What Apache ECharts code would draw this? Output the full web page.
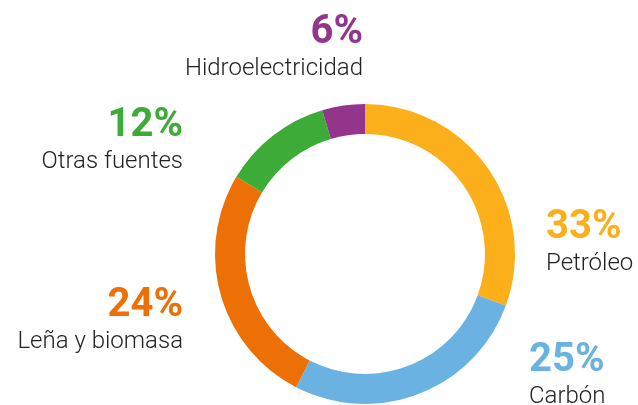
<!DOCTYPE html>
<html>
<head>
<meta charset="utf-8">
<script src="https://cdn.jsdelivr.net/npm/echarts@6/dist/echarts.min.js"></script>
<style>
  html, body { margin: 0; padding: 0; background: #fff; }
  #donut_chart { width: 638px; height: 405px; }
</style>
</head>
<body>
<div id="donut_chart"></div>
<script>
// data
let categories = ['Petróleo', 'Carbón', 'Leña y biomasa', 'Otras fuentes', 'Hidroelectricidad'];
// arc sizes as drawn in the ring
let shares = [30.6, 27.0, 26.0, 11.8, 4.6];
// percentages printed in the labels
let pctLabels = ['33%', '25%', '24%', '12%', '6%'];
let colors = ['#FBB01B', '#6AB2E2', '#EC7005', '#3DAB37', '#93358A'];

// where each label box is anchored (x, top y, align)
let labelAnchors = [
  [546, 206, 'left'],
  [529, 339, 'left'],
  [183, 284, 'right'],
  [183, 104, 'right'],
  [363, 11, 'right'],
];

let myChart = echarts.init(document.getElementById('donut_chart'));

let seriesData = categories.map((name, i) => {
  return {
    name: name,
    value: shares[i],
    itemStyle: { color: colors[i] },
    label: {
      formatter: '{p|' + pctLabels[i] + '}\n{n|' + name + '}',
      rich: {
        p: { fontSize: 40, fontWeight: 'bold', color: colors[i], lineHeight: 44, fontFamily: 'Roboto' },
        n: { fontSize: 24, fontWeight: 300, color: '#222', lineHeight: 28, fontFamily: 'Roboto' },
      },
    },
  };
});

let option = {
  animation: false,
  series: [
    {
      type: 'pie',
      center: [365, 254],
      radius: [120, 150],
      startAngle: 90,
      clockwise: true,
      silent: true,
      itemStyle: { borderWidth: 0 },
      label: { show: true, position: 'outside', overflow: 'none', width: 300 },
      labelLine: { show: false },
      labelLayout: function(params) {
        let a = labelAnchors[params.dataIndex];
        return { x: a[0], y: a[1], align: a[2], verticalAlign: 'top', hideOverlap: false };
      },
      data: seriesData,
    },
  ],
};
myChart.setOption(option);
</script>
</body>
</html>
